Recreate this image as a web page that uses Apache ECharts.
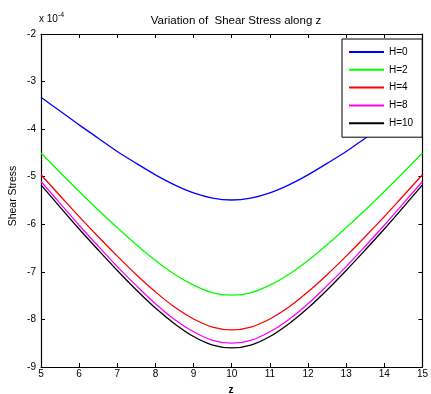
<!DOCTYPE html>
<html>
<head>
<meta charset="utf-8">
<script src="https://cdn.jsdelivr.net/npm/echarts@6/dist/echarts.min.js"></script>
<style>html,body{margin:0;padding:0;background:#fff;}#c{width:431px;height:394px;}</style>
</head>
<body>
<div id="c"></div>
<script>
var zValues = [5,5.5,6,6.5,7,7.5,8,8.5,9,9.5,10,10.5,11,11.5,12,12.5,13,13.5,14,14.5,15];
var seriesNames = ['H=0','H=2','H=4','H=8','H=10'];
var h0 = [-3.33,-3.62,-3.91,-4.19,-4.47,-4.72,-4.96,-5.17,-5.34,-5.45,-5.49,-5.45,-5.34,-5.17,-4.96,-4.72,-4.47,-4.19,-3.91,-3.62,-3.33];
var h2 = [-4.50,-4.91,-5.31,-5.70,-6.07,-6.43,-6.76,-7.05,-7.28,-7.44,-7.49,-7.44,-7.28,-7.05,-6.76,-6.43,-6.07,-5.70,-5.31,-4.91,-4.50];
var h4 = [-4.96,-5.40,-5.84,-6.26,-6.67,-7.06,-7.42,-7.74,-7.99,-8.16,-8.22,-8.16,-7.99,-7.74,-7.42,-7.06,-6.67,-6.26,-5.84,-5.40,-4.96];
var h8 = [-5.10,-5.56,-6.02,-6.46,-6.89,-7.29,-7.67,-8.00,-8.26,-8.44,-8.50,-8.44,-8.26,-8.00,-7.67,-7.29,-6.89,-6.46,-6.02,-5.56,-5.10];
var h10 = [-5.17,-5.64,-6.10,-6.54,-6.97,-7.38,-7.76,-8.09,-8.36,-8.54,-8.60,-8.54,-8.36,-8.09,-7.76,-7.38,-6.97,-6.54,-6.10,-5.64,-5.17];
var colors = ['#0000ff','#00ff00','#ff0000','#ff00ff','#000000'];
var allData = [h0,h2,h4,h8,h10];

var font = 'Liberation Sans';
var chart = echarts.init(document.getElementById('c'), null, {renderer:'canvas'});

function pairs(arr){ return zValues.map(function(z,i){ return [z, arr[i]]; }); }

var series = allData.map(function(d,i){
  return {
    name: seriesNames[i], type:'line', data: pairs(d), smooth: 0.35,
    symbol:'none', showSymbol:false,
    lineStyle:{color:colors[i], width:1.3}, itemStyle:{color:colors[i]},
    xAxisIndex:0, yAxisIndex:0, animation:false
  };
});

var axisCommon = {
  type:'value', interval:1,
  axisLine:{show:true, onZero:false, lineStyle:{color:'#000', width:1.2}},
  axisTick:{show:true, inside:true, length:4, lineStyle:{color:'#000'}},
  splitLine:{show:false}
};

chart.setOption({
  backgroundColor:'#fff',
  animation:false,
  textStyle:{fontFamily:font},
  grid:{left:41, right:5, top:34, bottom:27, containLabel:false},
  xAxis:[
    Object.assign({}, axisCommon, {min:5, max:15, position:'bottom',
      axisLabel:{color:'#000', fontSize:10, fontFamily:font, margin:2}}),
    Object.assign({}, axisCommon, {min:5, max:15, position:'top', axisLabel:{show:false}})
  ],
  yAxis:[
    Object.assign({}, axisCommon, {min:-9, max:-2, position:'left',
      axisLabel:{color:'#000', fontSize:10, fontFamily:font, margin:5}}),
    Object.assign({}, axisCommon, {min:-9, max:-2, position:'right', axisLabel:{show:false}})
  ],
  legend:{
    orient:'vertical', left:342, top:39,
    data: seriesNames,
    itemWidth:35, itemHeight:10, itemGap:7.8,
    padding:[8,9,9,6],
    borderColor:'#000', borderWidth:1, backgroundColor:'#fff',
    textStyle:{color:'#000', fontSize:10, fontFamily:font},
    itemStyle:{opacity:0}
  },
  title:{
    text:'Variation of  Shear Stress along z',
    left:231, top:10, textAlign:'center',
    textStyle:{fontSize:11.5, fontWeight:'normal', color:'#000', fontFamily:font}
  },
  graphic:[
    {type:'text', x:39, y:12, style:{
      text:'x 10{s|-4}', fill:'#000', font:'10px '+font,
      rich:{s:{fontSize:7, verticalAlign:'top', padding:[0,0,7,0], fill:'#000'}}
    }},
    {type:'text', x:13, y:196, rotation:Math.PI/2, style:{
      text:'Shear Stress', fill:'#000', font:'10.5px '+font, align:'center', verticalAlign:'middle'
    }},
    {type:'text', x:231, y:390, style:{text:'z', fill:'#000', font:'bold 10px '+font, align:'center', verticalAlign:'middle'}}
  ],
  series: series
});
</script>
</body>
</html>
